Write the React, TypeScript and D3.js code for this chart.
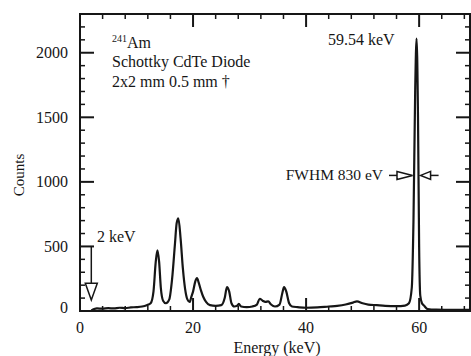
import React from "react";
import * as d3 from "d3";

const W = 471;
const H = 356;

// Spectrum: energy (keV), counts
const energy = [
  2.0, 2.5, 3, 4, 5, 6, 7, 8, 9, 10, 11, 11.8, 12.5, 13.0, 13.4, 13.7, 14.0, 14.3, 14.7, 15.2,
  15.8, 16.3, 16.8, 17.1, 17.4, 17.8, 18.2, 18.6, 19.0, 19.4, 19.7, 20.0, 20.4, 20.7, 21.0, 21.4,
  21.8, 22.3, 23, 24, 25, 25.6, 26.0, 26.4, 26.8, 27.3, 27.8, 28.1, 28.5, 29.5, 30.5, 31.3, 31.8,
  32.3, 32.8, 33.3, 33.8, 34.5, 35.3, 35.8, 36.1, 36.5, 37.0, 37.5, 38.5, 40, 42, 44, 45.5, 47,
  48.3, 49.0, 50, 51, 52.5, 54, 56, 57.5, 58.2, 58.7, 59.0, 59.3, 59.55, 59.8, 60.0, 60.2, 60.5,
  60.9, 61.5, 63, 66, 69,
];
const counts = [
  5, 15, 20, 18, 22, 20, 25, 22, 28, 30, 35, 45, 60, 150, 380, 470, 380, 180, 80, 60,
  90, 250, 520, 680, 718, 560, 330, 170, 90, 70, 110, 150, 230, 255, 220, 160,
  110, 70, 45, 40, 45, 100, 185, 150, 60, 35, 40, 55, 35, 30, 35, 50, 95,
  80, 70, 75, 50, 35, 50, 140, 185, 150, 60, 35, 30, 25, 28, 35, 40, 50,
  65, 75, 60, 50, 45, 40, 38, 42, 60, 180, 700, 1700, 2110, 1500, 500, 120, 60,
  40, 15, 10, 8, 8,
];

const yMajor = [0, 500, 1000, 1500, 2000];
const xMajor = [0, 20, 40, 60];
const yMinor = d3.range(0, 2301, 100);
const xMinor = d3.range(0, 69.1, 4);

const infoLines = ["Schottky CdTe Diode", "2x2 mm 0.5 mm †"];

export default function App() {
  const left = 80, right = 470, top = 14, bottom = 311;
  const x = d3.scaleLinear().domain([0, 69]).range([left, right]);
  const y = d3.scaleLinear().domain([0, 2300]).range([bottom, top]);
  const pts: [number, number][] = energy.map((e, i) => [e, counts[i]]);
  const line = d3
    .line<[number, number]>()
    .x((d) => x(d[0]))
    .y((d) => y(d[1]))
    .curve(d3.curveMonotoneX);

  const font = "'Liberation Serif', 'Times New Roman', serif";
  const ink = "#161616";
  const majorLen = 14;
  const minorLen = 5;

  const fwY = y(1050);
  const pk = x(59.55);

  return (
    <svg
      width={W}
      height={H}
      style={{ position: "absolute", left: 0, top: 0, background: "#fff" }}
      fontFamily={font}
      fill={ink}
    >
      <rect x={0} y={0} width={W} height={H} fill="#fff" />
      {/* data */}
      <path d={line(pts) || ""} fill="none" stroke={ink} strokeWidth={2.2} strokeLinejoin="round" />

      {/* frame */}
      <rect x={left} y={top} width={right - left} height={bottom - top} fill="none" stroke={ink} strokeWidth={2} />

      {/* y ticks */}
      {yMinor.map((v) => {
        const isMaj = yMajor.includes(v);
        const len = isMaj ? majorLen : minorLen;
        return (
          <g key={"y" + v} stroke={ink} strokeWidth={isMaj ? 2 : 1.5}>
            <line x1={left} x2={left + len} y1={y(v)} y2={y(v)} />
            <line x1={right} x2={right - len} y1={y(v)} y2={y(v)} />
          </g>
        );
      })}
      {/* x ticks */}
      {xMinor.map((v) => {
        const isMaj = xMajor.includes(v);
        const len = isMaj ? majorLen - 1 : minorLen;
        return (
          <g key={"x" + v} stroke={ink} strokeWidth={isMaj ? 2 : 1.5}>
            <line x1={x(v)} x2={x(v)} y1={bottom} y2={bottom - len} />
            <line x1={x(v)} x2={x(v)} y1={top} y2={top + len} />
          </g>
        );
      })}

      {/* tick labels */}
      {yMajor.map((v) => (
        <text key={"yl" + v} x={68} y={y(v) - (v === 0 ? 4 : 0)} textAnchor="end" dominantBaseline="central" fontSize={16}>
          {v}
        </text>
      ))}
      {xMajor.map((v) => (
        <text key={"xl" + v} x={x(v)} y={333} textAnchor="middle" fontSize={16}>
          {v}
        </text>
      ))}

      {/* axis titles */}
      <text x={277} y={353} textAnchor="middle" fontSize={16}>
        Energy (keV)
      </text>
      <text transform={`translate(24,175) rotate(-90)`} textAnchor="middle" fontSize={15}>
        Counts
      </text>

      {/* info text */}
      <text x={112} y={48} fontSize={16}>
        <tspan fontSize={10} dy={-6}>241</tspan>
        <tspan dy={6}>Am</tspan>
      </text>
      {infoLines.map((t, i) => (
        <text key={t} x={112} y={67 + i * 20} fontSize={16}>
          {t}
        </text>
      ))}

      <text x={328} y={45} fontSize={16}>59.54 keV</text>

      {/* FWHM annotation */}
      <text x={383} y={fwY + 5} textAnchor="end" fontSize={15.5}>
        FWHM 830 eV
      </text>
      <g fill="#fff" stroke={ink} strokeWidth={1.5}>
        <line x1={389} x2={397} y1={fwY} y2={fwY} />
        <path d={`M397,${fwY - 4}L${pk - 4},${fwY}L397,${fwY + 4}Z`} />
        <line x1={pk + 22} x2={pk + 14} y1={fwY} y2={fwY} />
        <path d={`M${pk + 14},${fwY - 4}L${pk + 4},${fwY}L${pk + 14},${fwY + 4}Z`} />
      </g>

      {/* 2 keV annotation */}
      <text x={97} y={242} fontSize={16}>2 keV</text>
      <g fill="#fff" stroke={ink} strokeWidth={1.5}>
        <line x1={x(2)} x2={x(2)} y1={y(500)} y2={y(215)} />
        <path d={`M${x(2) - 6},${y(215)}L${x(2) + 6},${y(215)}L${x(2)},${y(85)}Z`} />
      </g>
    </svg>
  );
}
